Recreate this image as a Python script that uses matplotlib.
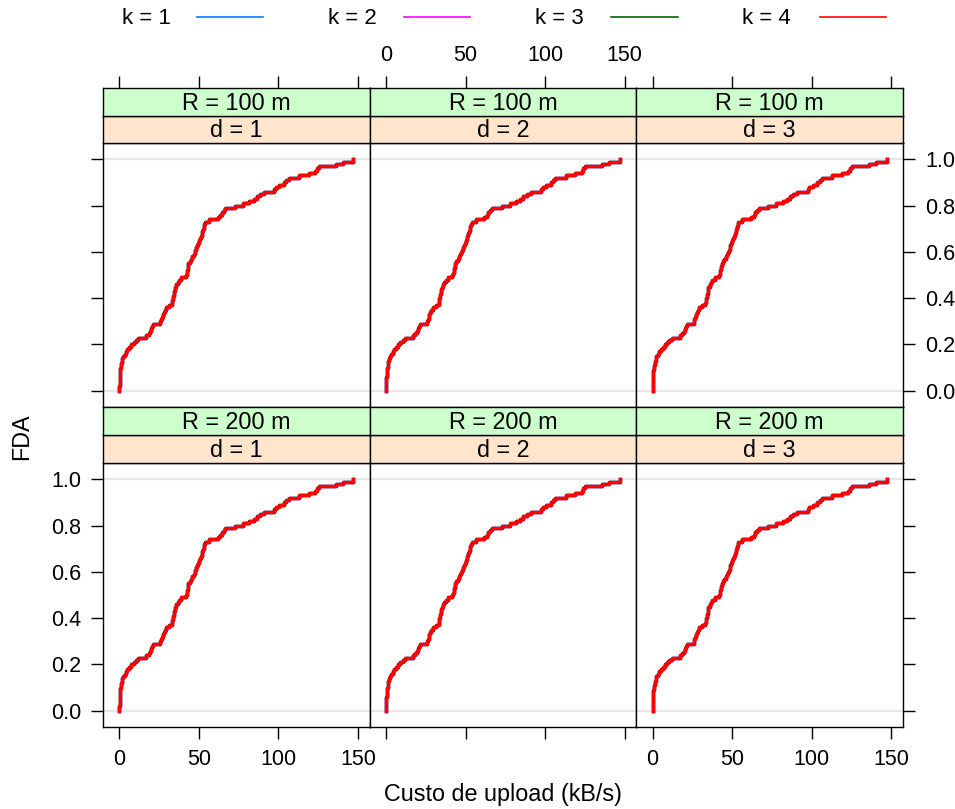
import numpy as np
import matplotlib
matplotlib.use("Agg")
import matplotlib.pyplot as plt
from matplotlib.lines import Line2D

plt.rcParams['font.family'] = ['Liberation Sans', 'DejaVu Sans']

# Upload cost samples (kB/s), sorted; one ECDF per k value
upload_cost = [
    0.0, 0.0, 0.1, 0.1, 0.2, 0.2, 0.3, 0.3, 0.4, 0.6,
    0.9, 1.2, 1.5, 1.8, 2.4, 3.3, 4.1, 5.1, 6.3, 7.5,
    9.0, 10.4, 11.9, 17.0, 18.5, 19.5, 20.1, 20.7, 21.3, 25.7,
    26.2, 26.8, 27.3, 27.9, 28.4, 29.4, 31.3, 33.0, 33.3, 33.6,
    33.9, 34.2, 34.5, 34.8, 35.1, 35.9, 36.7, 37.6, 39.0, 41.7,
    42.3, 42.6, 42.9, 43.1, 43.4, 44.2, 45.0, 45.9, 46.7, 47.3,
    47.8, 48.4, 48.9, 49.5, 50.0, 50.6, 51.2, 51.8, 52.2, 52.6,
    53.0, 53.5, 53.9, 56.3, 61.8, 63.4, 64.4, 65.5, 66.6, 72.8,
    77.8, 81.7, 84.4, 86.4, 88.5, 91.0, 97.5, 98.5, 100.5, 103.5,
    105.0, 106.4, 113.0, 119.0, 123.0, 124.0, 125.3, 136.0, 140.5, 147.1,
]

k_values = [1, 2, 3, 4]
k_colors = ["#0080ff", "#ff00ff", "#006400", "#ff0000"]
radius_labels = ["R = 100 m", "R = 200 m"]
d_labels = ["d = 1", "d = 2", "d = 3"]
x_ticks = [0, 50, 100, 150]
y_ticks = [0.0, 0.2, 0.4, 0.6, 0.8, 1.0]

W, H = 955, 809
fig = plt.figure(figsize=(W / 100, H / 100), dpi=100)

FS_STRIP = 16.8
FS_TICK = 15.5
FS_LAB = 16.8
FS_KEY = 16
TICK_LEN = 8.3
TICK_PAD = 7.5

col_edges = [103, 369.7, 636.3, 903]
# (green strip top, peach strip top, panel top, panel bottom) per row
row_edges = [(88, 116, 143, 407), (407, 435, 463, 727)]

xs = np.array(upload_cost)
xmin, xmax = xs.min(), xs.max()
pad = 0.07 * (xmax - xmin)
XLIM = (xmin - pad, xmax + pad)
YLIM = (-0.07, 1.07)


def frame(l, t, r, b):
    return [l / W, 1 - b / H, (r - l) / W, (b - t) / H]


def ecdf_xy(vals):
    v = np.sort(np.asarray(vals, dtype=float))
    f = np.arange(1, len(v) + 1) / len(v)
    return np.r_[v[0], v], np.r_[0.0, f]


for ri, (gt, pt, top, bot) in enumerate(row_edges):
    for ci in range(3):
        l, r = col_edges[ci], col_edges[ci + 1]
        # Panel
        ax = fig.add_axes(frame(l, top, r, bot))
        ax.set_xlim(*XLIM)
        ax.set_ylim(*YLIM)
        for s in ax.spines.values():
            s.set_linewidth(1.0)
        ax.axhline(0, color="#e6e6e6", lw=1.6, zorder=0)
        ax.axhline(1, color="#e6e6e6", lw=1.6, zorder=0)
        for k, c in zip(k_values, k_colors):
            x, y = ecdf_xy(upload_cost)
            ax.plot(x, y, drawstyle="steps-post", color=c, lw=2.4,
                    solid_joinstyle="round")
        ax.tick_params(direction="out", length=TICK_LEN, width=1.0,
                       pad=TICK_PAD, labelsize=FS_TICK)
        # y axis
        if ci == 0:
            ax.set_yticks(y_ticks)
            ax.yaxis.set_ticks_position("left")
            if ri == 1:
                ax.set_yticklabels([f"{v:.1f}" for v in y_ticks])
            else:
                ax.set_yticklabels([])
        elif ci == 2:
            ax.set_yticks(y_ticks)
            ax.yaxis.set_ticks_position("right")
            if ri == 0:
                ax.tick_params(axis="y", labelright=True, labelleft=False)
                ax.set_yticklabels([f"{v:.1f}" for v in y_ticks])
            else:
                ax.tick_params(axis="y", labelright=False, labelleft=False)
        else:
            ax.set_yticks([])
        # x axis (bottom, lower row only)
        if ri == 1:
            ax.set_xticks(x_ticks)
            ax.xaxis.set_ticks_position("bottom")
            if ci == 1:
                ax.set_xticklabels([])
            else:
                ax.set_xticklabels([str(v) for v in x_ticks])
        else:
            ax.set_xticks([])

        # Strips: d (lower, peach) and R (upper, green)
        sd = fig.add_axes(frame(l, pt, r, top))
        sd.set_facecolor("#ffe5cc")
        sd.set_xticks([]); sd.set_yticks([])
        sd.text(0.5, 0.45, d_labels[ci], ha="center", va="center",
                fontsize=FS_STRIP, transform=sd.transAxes)
        sg = fig.add_axes(frame(l, gt, r, pt))
        sg.set_facecolor("#ccffcc")
        sg.set_yticks([])
        sg.text(0.5, 0.45, radius_labels[ri], ha="center", va="center",
                fontsize=FS_STRIP, transform=sg.transAxes)
        for s in list(sd.spines.values()) + list(sg.spines.values()):
            s.set_linewidth(1.0)
        sg.set_xlim(*XLIM)
        if ri == 0:
            sg.set_xticks(x_ticks)
            sg.xaxis.set_ticks_position("top")
            sg.tick_params(direction="out", length=TICK_LEN, width=1.0,
                           pad=TICK_PAD, labelsize=FS_TICK,
                           labeltop=(ci == 1), labelbottom=False)
            sg.set_xticklabels([str(v) for v in x_ticks])
        else:
            sg.set_xticks([])

# Axis titles
fig.text(503 / W, 1 - 795 / H, "Custo de upload (kB/s)", ha="center",
         va="center", fontsize=FS_LAB)
fig.text(22 / W, 1 - 437 / H, "FDA", ha="center", va="center",
         rotation=90, fontsize=FS_LAB)

# Legend across the top
key_text_x = [122, 328, 535, 742]
key_line_x = [(197, 263), (404, 470), (611, 678), (820, 886)]
for k, c, tx, (lx0, lx1) in zip(k_values, k_colors, key_text_x, key_line_x):
    fig.text(tx / W, 1 - 18 / H, f"k = {k}", ha="left", va="center",
             fontsize=FS_KEY)
    fig.add_artist(Line2D([lx0 / W, lx1 / W], [1 - 17 / H, 1 - 17 / H],
                          color=c, lw=1.2, transform=fig.transFigure))

fig.savefig("out.png", dpi=100)
